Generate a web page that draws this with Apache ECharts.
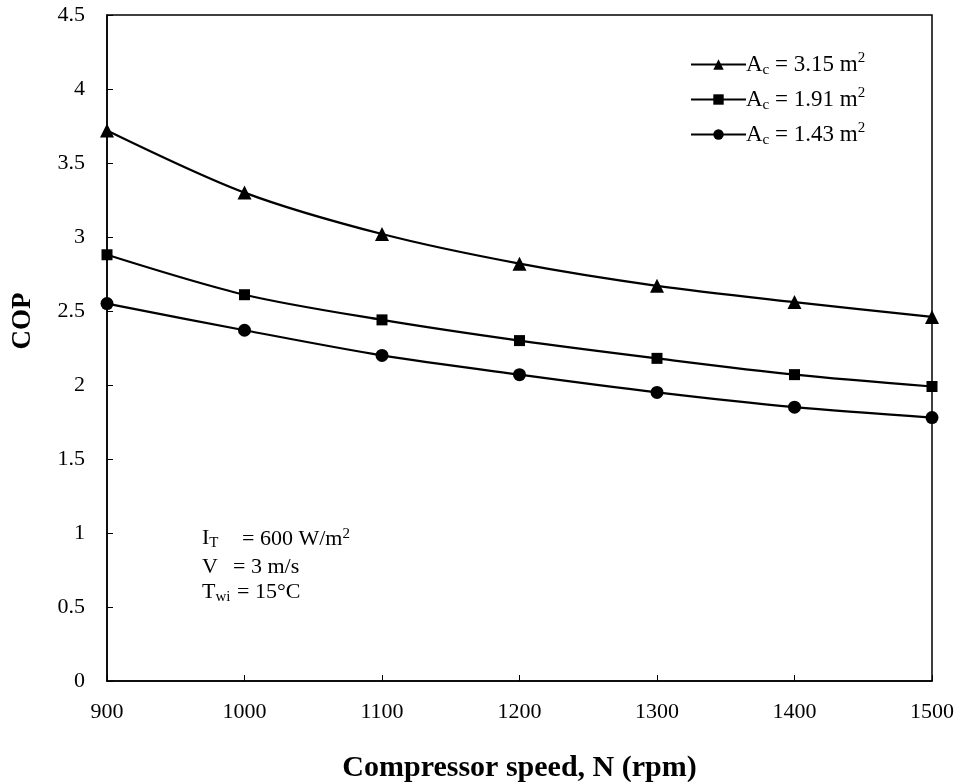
<!DOCTYPE html>
<html>
<head>
<meta charset="utf-8">
<script src="https://cdn.jsdelivr.net/npm/echarts@6/dist/echarts.min.js"></script>
<style>
	html, body { margin: 0; padding: 0; background: #fff; }
	#main { width: 959px; height: 782px; }
</style>
</head>
<body>
<div id="main"></div>
<script>
	// data
	var speeds = [900, 1000, 1100, 1200, 1300, 1400, 1500];
	var copA315 = [3.72, 3.30, 3.02, 2.82, 2.67, 2.56, 2.46];
	var copA191 = [2.88, 2.61, 2.44, 2.30, 2.18, 2.07, 1.99];
	var copA143 = [2.55, 2.37, 2.20, 2.07, 1.95, 1.85, 1.78];
	var areaLabels = ['3.15', '1.91', '1.43'];

	var chart = echarts.init(document.getElementById('main'), null, {
		width: 959,
		height: 782
	});

	var serif = '"Liberation Serif", "DejaVu Serif", serif';

	function pairs(vals) {
		return speeds.map(function (s, i) { return [s, vals[i]]; });
	}

	function makeSeries(name, vals, symbol, size) {
		return {
			name: name,
			type: 'line',
			smooth: 0.3,
			symbol: symbol,
			symbolSize: size,
			showSymbol: true,
			lineStyle: { color: '#000', width: 2.2 },
			itemStyle: { color: '#000' },
			data: pairs(vals)
		};
	}

	var names = ['a315', 'a191', 'a143'];

	var option = {
		animation: false,
		backgroundColor: '#fff',
		textStyle: { fontFamily: serif },
		grid: {
			left: 107,
			right: 27,
			top: 15,
			bottom: 101,
			outerBoundsMode: 'none',
			containLabel: false,
			show: true,
			borderColor: '#000',
			borderWidth: 1.5
		},
		legend: {
			left: 685,
			top: 46,
			orient: 'vertical',
			itemGap: 8,
			itemWidth: 55,
			itemHeight: 13,
			data: names,
			formatter: function (n) {
				var lbl = areaLabels[names.indexOf(n)];
				return '{t|A}{sub|c}{t| = ' + lbl + ' m}{sup|2}';
			},
			textStyle: {
				fontFamily: serif,
				color: '#000',
				padding: [0, 0, 0, -5],
				rich: {
					t: { fontFamily: serif, fontSize: 23, color: '#000' },
					sub: { fontFamily: serif, fontSize: 15, color: '#000', padding: [12, 0, 0, 0] },
					sup: { fontFamily: serif, fontSize: 15, color: '#000', padding: [0, 0, 12, 0] }
				}
			}
		},
		xAxis: {
			type: 'value',
			min: 900,
			max: 1500,
			interval: 100,
			name: 'Compressor speed, N (rpm)',
			nameLocation: 'middle',
			nameGap: 72,
			nameTextStyle: { fontFamily: serif, fontSize: 30, fontWeight: 'bold', color: '#000' },
			axisLine: { lineStyle: { color: '#000', width: 1.5 } },
			axisTick: { inside: true, length: 6, lineStyle: { color: '#000' } },
			axisLabel: {
				fontFamily: serif, fontSize: 22, color: '#000', margin: 20,
				formatter: function (v) { return String(v); }
			},
			splitLine: { show: false }
		},
		yAxis: {
			type: 'value',
			min: 0,
			max: 4.5,
			interval: 0.5,
			axisLine: { show: true, lineStyle: { color: '#000', width: 1.5 } },
			axisTick: { show: true, inside: true, length: 6, lineStyle: { color: '#000' } },
			axisLabel: { fontFamily: serif, fontSize: 22, color: '#000', margin: 22 },
			splitLine: { show: false }
		},
		graphic: [
			{
				type: 'text', x: 23, y: 321, rotation: Math.PI / 2,
				style: {
					text: 'COP', fontFamily: serif, fontSize: 27, fontWeight: 'bold', fill: '#000',
					align: 'center', verticalAlign: 'middle'
				}
			},
			{
				type: 'text', left: 202, top: 527,
				style: {
					text: '{t|I}{sub|T}',
					rich: {
						t: { fontFamily: serif, fontSize: 22, fill: '#000' },
						sub: { fontFamily: serif, fontSize: 15, fill: '#000', padding: [10, 0, 0, 0] }
					}
				}
			},
			{
				type: 'text', left: 242, top: 527,
				style: {
					text: '= 600 W/m{sup|2}',
					fontFamily: serif, fontSize: 22, fill: '#000',
					rich: {
						sup: { fontFamily: serif, fontSize: 15, fill: '#000', padding: [0, 0, 10, 0] }
					}
				}
			},
			{
				type: 'text', left: 202, top: 556,
				style: { text: 'V', fontFamily: serif, fontSize: 22, fill: '#000' }
			},
			{
				type: 'text', left: 233, top: 556,
				style: { text: '= 3 m/s', fontFamily: serif, fontSize: 22, fill: '#000' }
			},
			{
				type: 'text', left: 202, top: 581,
				style: {
					text: '{t|T}{sub|wi}',
					rich: {
						t: { fontFamily: serif, fontSize: 22, fill: '#000' },
						sub: { fontFamily: serif, fontSize: 15, fill: '#000', padding: [10, 0, 0, 0] }
					}
				}
			},
			{
				type: 'text', left: 237, top: 581,
				style: { text: '= 15°C', fontFamily: serif, fontSize: 22, fill: '#000' }
			}
		],
		series: [
			makeSeries('a315', copA315, 'triangle', 14),
			makeSeries('a191', copA191, 'rect', 11),
			makeSeries('a143', copA143, 'circle', 13)
		]
	};

	chart.setOption(option);
</script>
</body>
</html>
